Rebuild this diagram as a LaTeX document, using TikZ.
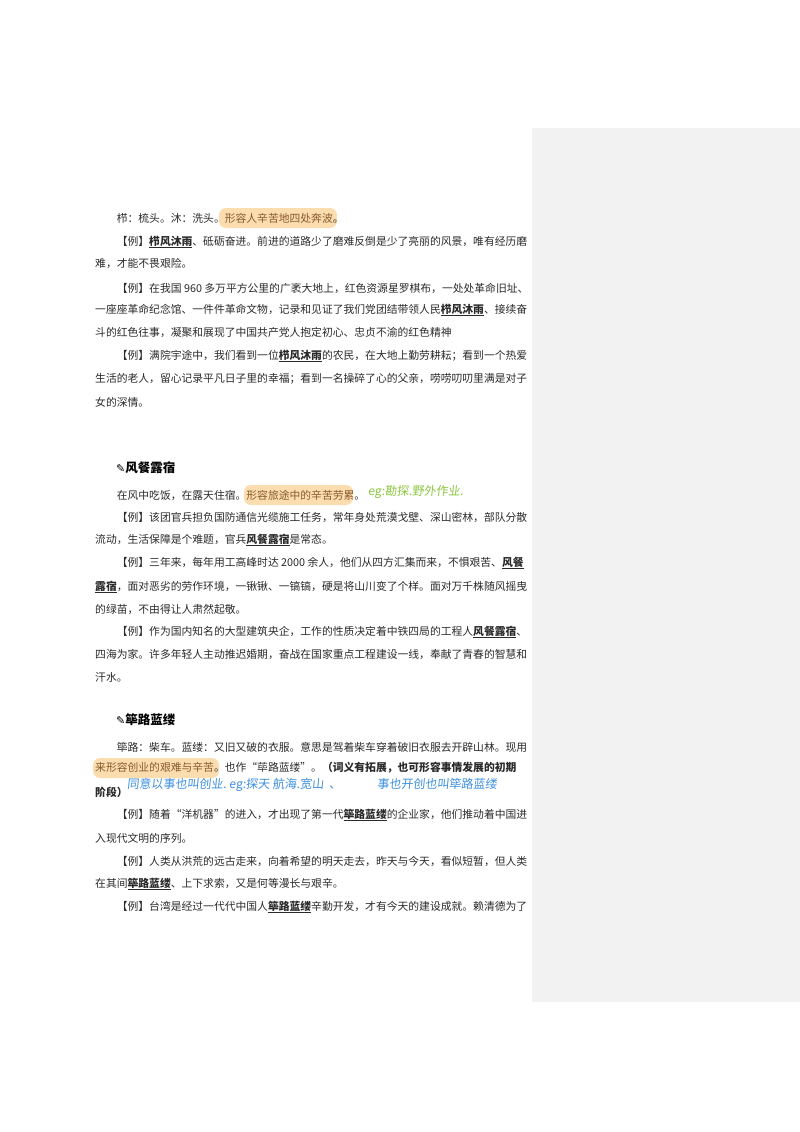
\documentclass[tikz,border=0pt]{standalone}
\usepackage{fontspec}
\setmainfont{Noto Sans CJK SC}
\newfontfamily\sym{DejaVu Sans}
\newfontfamily\hand{Noto Sans CJK SC}[FakeSlant=0.1]
\definecolor{hl}{HTML}{FBDDB0}
\definecolor{hltext}{HTML}{8A5A2B}
\definecolor{panel}{HTML}{F2F2F2}
\definecolor{body}{HTML}{2A2A2A}
\definecolor{green}{HTML}{8CC63F}
\definecolor{blue}{HTML}{3D8FE0}
\newcommand{\kw}[1]{\underline{\textbf{#1}}}
\newcommand{\hlt}[1]{\textcolor{hltext}{#1}}
\begin{document}
\begin{tikzpicture}[x=1pt,y=-1pt,
  ln/.style={anchor=west,inner sep=0pt,font=\fontsize{10.8}{12}\selectfont,text=body},
  hd/.style={anchor=west,inner sep=0pt,font=\fontsize{12.5}{14}\selectfont\bfseries,text=black},
  hlbox/.style={fill=hl,rounded corners=7pt,draw=none},
  hw/.style={anchor=west,inner sep=0pt,font=\hand\fontsize{12}{13}\selectfont}]
\useasboundingbox (0,0) rectangle (800,1132);
\fill[white] (0,0) rectangle (800,1132);
\fill[panel] (532,128) rectangle (800,1002);
% highlights
\fill[hlbox] (219,208) rectangle (337,228);
\fill[hlbox] (244,485) rectangle (353,505);
\fill[hlbox] (93,758) rectangle (219,778);
% section 1
\node[ln] (l1) at (116.6,218) {栉：梳头。沐：洗头。\hlt{形容人辛苦地四处奔波}。};
\node[ln] (l2) at (116.6,242) {【例】\kw{栉风沐雨}、砥砺奋进。前进的道路少了磨难反倒是少了亮丽的风景，唯有经历磨};
\node[ln] (l3) at (95,264) {难，才能不畏艰险。};
\node[ln] (l4) at (116.6,288) {【例】在我国 960 多万平方公里的广袤大地上，红色资源星罗棋布，一处处革命旧址、};
\node[ln] (l5) at (95,310) {一座座革命纪念馆、一件件革命文物，记录和见证了我们党团结带领人民\kw{栉风沐雨}、接续奋};
\node[ln] (l6) at (95,333) {斗的红色往事，凝聚和展现了中国共产党人抱定初心、忠贞不渝的红色精神};
\node[ln] (l7) at (116.6,356) {【例】满院宇途中，我们看到一位\kw{栉风沐雨}的农民，在大地上勤劳耕耘；看到一个热爱};
\node[ln] (l8) at (95,379) {生活的老人，留心记录平凡日子里的幸福；看到一名操碎了心的父亲，唠唠叨叨里满是对子};
\node[ln] (l9) at (95,402) {女的深情。};
% section 2
\node[hd] (h2) at (116,468) {{\sym\fontsize{11}{12}\selectfont ✎}风餐露宿};
\node[ln] (m1) at (116.6,495) {在风中吃饭，在露天住宿。\hlt{形容旅途中的辛苦劳累}。};
\node[hw,text=green] (g1) at (368,492) {eg:勘探.野外作业.};
\node[ln] (m2) at (116.6,517) {【例】该团官兵担负国防通信光缆施工任务，常年身处荒漠戈壁、深山密林，部队分散};
\node[ln] (m3) at (95,540) {流动，生活保障是个难题，官兵\kw{风餐露宿}是常态。};
\node[ln] (m4) at (116.6,563) {【例】三年来，每年用工高峰时达 2000 余人，他们从四方汇集而来，不惧艰苦、\kw{风餐}};
\node[ln] (m5) at (95,587) {\kw{露宿}，面对恶劣的劳作环境，一锹锹、一镐镐，硬是将山川变了个样。面对万千株随风摇曳};
\node[ln] (m6) at (95,609) {的绿苗，不由得让人肃然起敬。};
\node[ln] (m7) at (116.6,632) {【例】作为国内知名的大型建筑央企，工作的性质决定着中铁四局的工程人\kw{风餐露宿}、};
\node[ln] (m8) at (95,654) {四海为家。许多年轻人主动推迟婚期，奋战在国家重点工程建设一线，奉献了青春的智慧和};
\node[ln] (m9) at (95,677) {汗水。};
% section 3
\node[hd] (h3) at (116,720) {{\sym\fontsize{11}{12}\selectfont ✎}筚路蓝缕};
\node[ln] (n1) at (116.6,747) {筚路：柴车。蓝缕：又旧又破的衣服。意思是驾着柴车穿着破旧衣服去开辟山林。现用};
\node[ln] (n2) at (95,768) {\hlt{来形容创业的艰难与辛苦}。也作“荜路蓝缕”。\textbf{（词义有拓展，也可形容事情发展的初期}};
\node[hw,text=blue] (b1) at (127,785) {同意以事也叫创业.\ eg:探天\ 航海.宽山\ \ 、\qquad\quad 事也开创也叫筚路蓝缕};
\node[ln] (n3) at (95,792) {\textbf{阶段）}};
\node[ln] (n4) at (116.6,815) {【例】随着“洋机器”的进入，才出现了第一代\kw{筚路蓝缕}的企业家，他们推动着中国进};
\node[ln] (n5) at (95,838) {入现代文明的序列。};
\node[ln] (n6) at (116.6,861) {【例】人类从洪荒的远古走来，向着希望的明天走去，昨天与今天，看似短暂，但人类};
\node[ln] (n7) at (95,884) {在其间\kw{筚路蓝缕}、上下求索，又是何等漫长与艰辛。};
\node[ln] (n8) at (116.6,907) {【例】台湾是经过一代代中国人\kw{筚路蓝缕}辛勤开发，才有今天的建设成就。赖清德为了};
\end{tikzpicture}
\end{document}
